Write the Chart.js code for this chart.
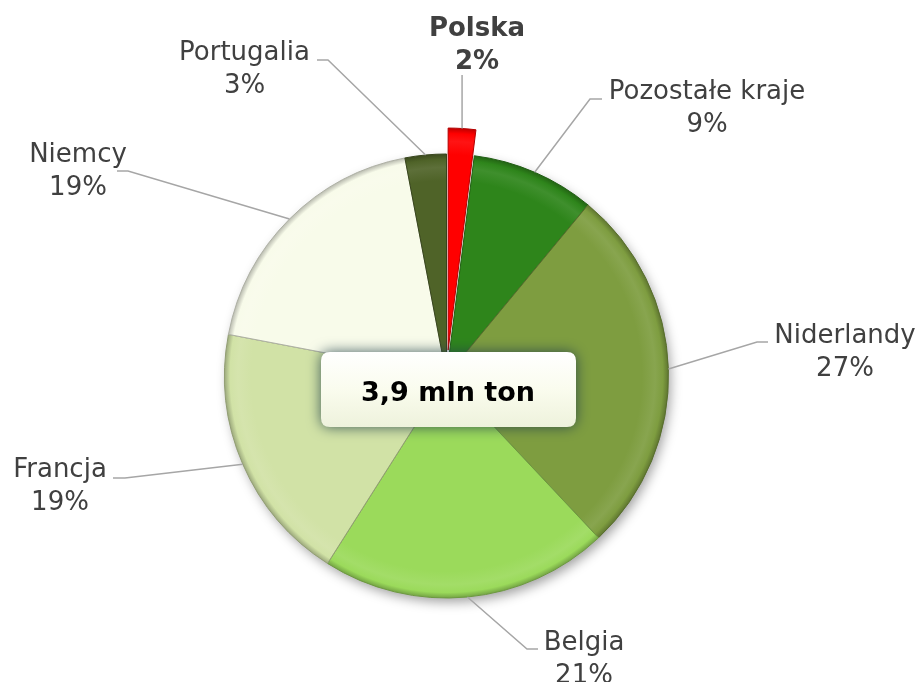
<!DOCTYPE html>
<html><head><meta charset="utf-8">
<script src="https://cdn.jsdelivr.net/npm/chart.js@4"></script>
<style>html,body{margin:0;padding:0;background:#fff}canvas{display:block}</style>
</head><body>
<canvas id="c" width="919" height="682"></canvas>
<script>
// ---- data ----
const categories = ['Polska', 'Pozostałe kraje', 'Niderlandy', 'Belgia', 'Francja', 'Niemcy', 'Portugalia'];
const shares = [2, 9, 27, 21, 19, 19, 3];
const centerText = '3,9 mln ton';

// ---- styles / layout ----
const sliceColors = ['#FF0000', '#2E851B', '#7E9D40', '#9BDA5B', '#D1E2A6', '#F8FBEA', '#4F6328'];
const explode = [26, 0, 0, 0, 0, 0, 0];   // pixel shift of exploded slice
const boldLabel = [true, false, false, false, false, false, false];
// text centre x & first-line baseline, leader elbow and end
const labelLayout = [
  {x: 477, y: 36, elbow: null, end: [466, 75]},
  {x: 707, y: 99, elbow: [590, 99], end: [602, 99]},
  {x: 845, y: 343, elbow: [757, 342], end: [768, 342]},
  {x: 584, y: 650, elbow: [527, 649], end: [538, 649]},
  {x: 60, y: 477, elbow: [125, 478], end: [113, 478]},
  {x: 78, y: 162, elbow: [128, 171], end: [117, 171]},
  {x: 244.5, y: 60, elbow: [328, 60], end: [317, 60]}
];
const pieRadius = 222;
const lineGap = 33;

function hexToRgb(h) {
  const n = parseInt(h.slice(1), 16);
  return [(n >> 16) & 255, (n >> 8) & 255, n & 255];
}
function mix(h, target, t) {
  const c = hexToRgb(h);
  const r = c.map((v, i) => Math.round(v + (target[i] - v) * t));
  return 'rgb(' + r.join(',') + ')';
}
const lighten = (h, t) => mix(h, [255, 255, 255], t);
const darken = (h, t) => mix(h, [0, 0, 0], t);

function midAngle(i) {
  const total = shares.reduce((a, b) => a + b, 0);
  const before = shares.slice(0, i).reduce((a, b) => a + b, 0);
  return -Math.PI / 2 + 2 * Math.PI * (before + shares[i] / 2) / total;
}

function bevelFill(context) {
  const chart = context.chart;
  const area = chart.chartArea;
  const i = context.dataIndex;
  const base = sliceColors[i];
  if (!area) return base;
  let cx = (area.left + area.right) / 2, cy = (area.top + area.bottom) / 2;
  if (explode[i]) {
    const mid = midAngle(i);
    cx += Math.cos(mid) * explode[i];
    cy += Math.sin(mid) * explode[i];
  }
  const g = chart.ctx.createRadialGradient(cx, cy, 0, cx, cy, pieRadius);
  g.addColorStop(0, base);
  g.addColorStop(0.88, base);
  g.addColorStop(0.94, lighten(base, 0.08));
  g.addColorStop(0.975, base);
  g.addColorStop(1, darken(base, 0.25));
  return g;
}

const decor = {
  id: 'decor',
  afterUpdate(chart) {
    // explode the slice: move its arc centre outwards along its mid-angle
    chart.getDatasetMeta(0).data.forEach((el, i) => {
      if (!explode[i]) return;
      const mid = (el.startAngle + el.endAngle) / 2;
      el.x += Math.cos(mid) * explode[i];
      el.y += Math.sin(mid) * explode[i];
    });
  },
  beforeDatasetsDraw(chart) {
    const el = chart.getDatasetMeta(0).data[1];
    const ctx = chart.ctx;
    ctx.save();
    ctx.shadowColor = 'rgba(0,0,0,0.38)';
    ctx.shadowBlur = 12;
    ctx.shadowOffsetX = 3;
    ctx.shadowOffsetY = 5;
    ctx.beginPath();
    ctx.arc(el.x, el.y, pieRadius - 1, 0, Math.PI * 2);
    ctx.fillStyle = '#ffffff';
    ctx.fill();
    ctx.restore();
  },
  afterDatasetsDraw(chart) {
    const ctx = chart.ctx;
    const meta = chart.getDatasetMeta(0);
    // leader lines
    ctx.save();
    ctx.strokeStyle = '#A6A6A6';
    ctx.lineWidth = 1.5;
    meta.data.forEach((el, i) => {
      const mid = (el.startAngle + el.endAngle) / 2;
      const sx = el.x + Math.cos(mid) * el.outerRadius;
      const sy = el.y + Math.sin(mid) * el.outerRadius;
      const L = labelLayout[i];
      ctx.beginPath();
      ctx.moveTo(sx, sy);
      if (L.elbow) {
        ctx.lineTo(L.elbow[0], L.elbow[1]);
        ctx.lineTo(L.end[0], L.end[1]);
      } else {
        ctx.lineTo(sx, L.end[1]);
      }
      ctx.stroke();
    });
    ctx.restore();
    // labels
    ctx.save();
    ctx.fillStyle = '#404040';
    ctx.textAlign = 'center';
    ctx.textBaseline = 'alphabetic';
    categories.forEach((name, i) => {
      const L = labelLayout[i];
      ctx.font = (boldLabel[i] ? 'bold ' : '') + '26px "DejaVu Sans"';
      ctx.fillText(name, L.x, L.y);
      ctx.fillText(shares[i] + '%', L.x, L.y + lineGap);
    });
    ctx.restore();
    // centre box
    const c = meta.data[1];
    const bw = 255, bh = 75, r = 9;
    const bx = c.x + 2 - bw / 2, by = c.y + 13.5 - bh / 2;
    ctx.save();
    ctx.shadowColor = 'rgba(35,65,75,0.85)';
    ctx.shadowBlur = 14;
    ctx.beginPath();
    ctx.moveTo(bx + r, by);
    ctx.lineTo(bx + bw - r, by);
    ctx.quadraticCurveTo(bx + bw, by, bx + bw, by + r);
    ctx.lineTo(bx + bw, by + bh - r);
    ctx.quadraticCurveTo(bx + bw, by + bh, bx + bw - r, by + bh);
    ctx.lineTo(bx + r, by + bh);
    ctx.quadraticCurveTo(bx, by + bh, bx, by + bh - r);
    ctx.lineTo(bx, by + r);
    ctx.quadraticCurveTo(bx, by, bx + r, by);
    ctx.closePath();
    const g = ctx.createLinearGradient(0, by, 0, by + bh);
    g.addColorStop(0, '#FFFFFF');
    g.addColorStop(0.5, '#FAFCEE');
    g.addColorStop(1, '#EEF2DC');
    ctx.fillStyle = g;
    ctx.fill();
    ctx.restore();
    ctx.save();
    ctx.fillStyle = '#000000';
    ctx.font = 'bold 27px "DejaVu Sans"';
    ctx.textAlign = 'center';
    ctx.textBaseline = 'alphabetic';
    ctx.fillText(centerText, c.x + 1.5, c.y + 24.5);
    ctx.restore();
  }
};

new Chart(document.getElementById('c'), {
  type: 'pie',
  data: {
    labels: categories,
    datasets: [{
      data: shares,
      backgroundColor: bevelFill,
      borderColor: sliceColors.map(c => darken(c, 0.3)),
      borderWidth: 1
    }]
  },
  options: {
    responsive: false,
    animation: false,
    radius: pieRadius,
    layout: {padding: {left: 0, right: 26, top: 70, bottom: 0}},
    plugins: {legend: {display: false}, tooltip: {enabled: false}}
  },
  plugins: [decor]
});
</script>
</body></html>
